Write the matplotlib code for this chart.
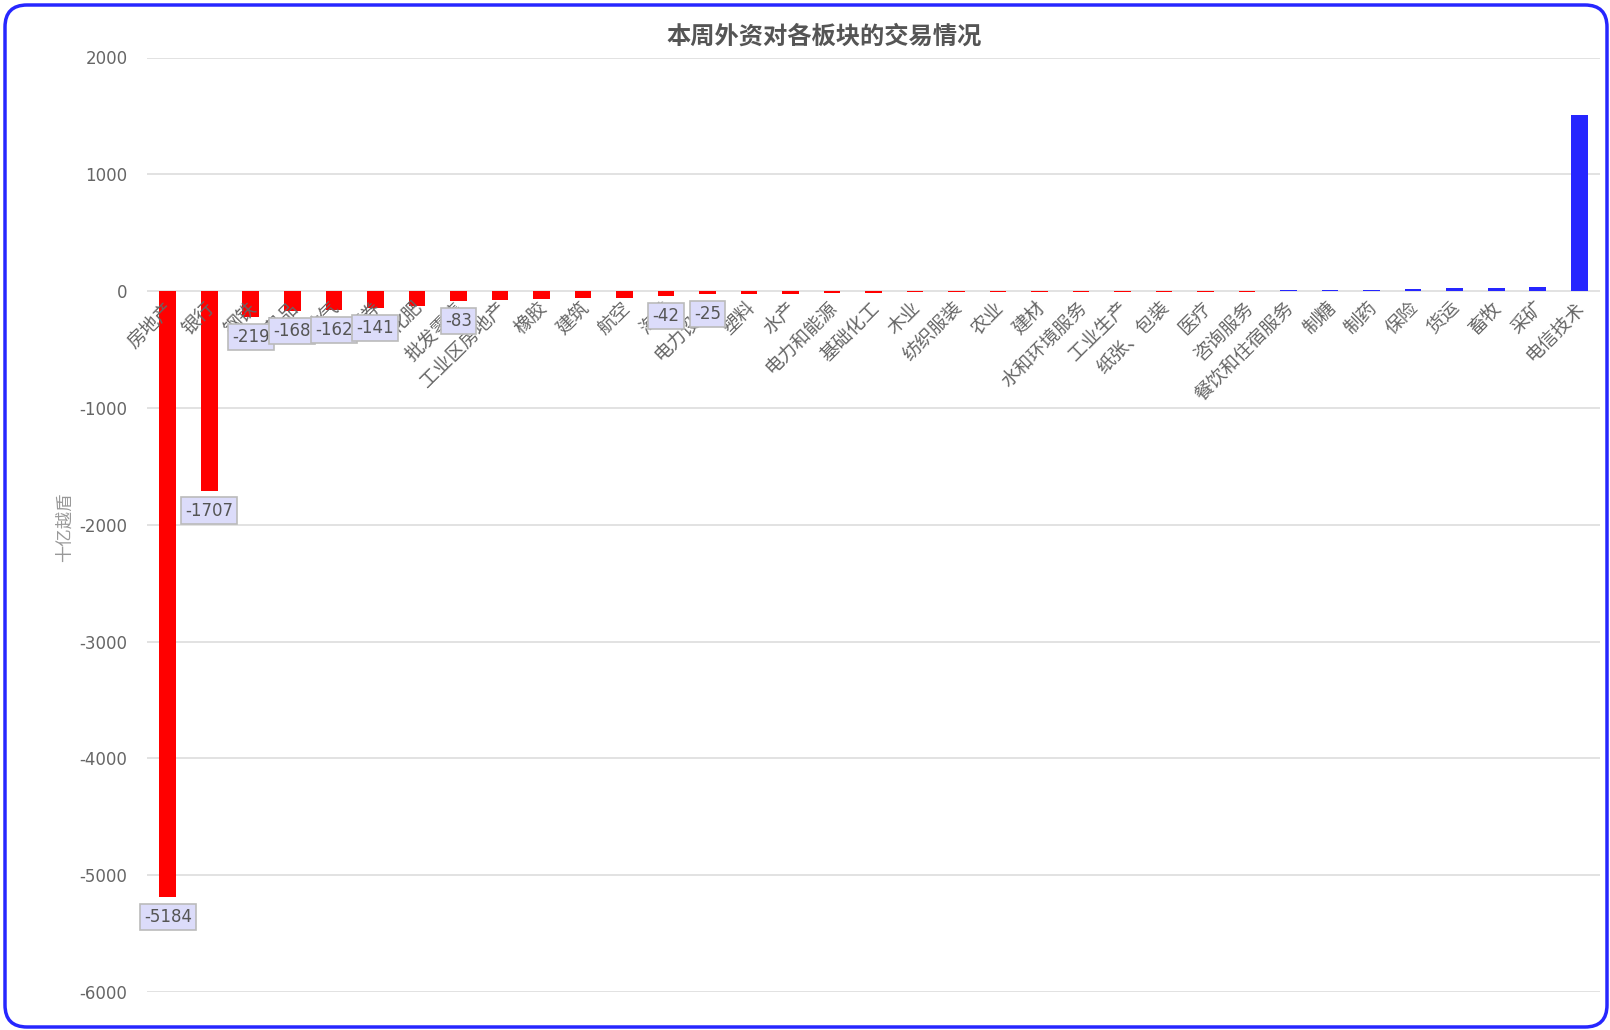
import matplotlib
matplotlib.use("Agg")
import matplotlib.pyplot as plt
from matplotlib.patches import FancyBboxPatch

categories = ["房地产", "银行", "钢铁", "消费品", "油气", "证券", "化肥", "批发零售",
              "工业区房地产", "橡胶", "建筑", "航空", "海港", "电力设备", "塑料", "水产",
              "电力和能源", "基础化工", "木业", "纺织服装", "农业", "建材", "水和环境服务",
              "工业生产", "纸张、包装", "医疗", "咨询服务", "餐饮和住宿服务", "制糖", "制药",
              "保险", "货运", "畜牧", "采矿", "电信技术"]
values = [-5184, -1707, -219, -168, -162, -141, -125, -83,
          -74, -70, -60, -55, -42, -25, -22, -21,
          -15, -14, -10, -9, -9, -8, -8,
          -8, -7, -7, -7, 6, 7, 8,
          16, 24, 26, 33, 1505]
labeled = ["房地产", "银行", "钢铁", "消费品", "油气", "证券", "批发零售", "海港", "电力设备"]
yticks = [2000, 1000, 0, -1000, -2000, -3000, -4000, -5000, -6000]

plt.rcParams['font.family'] = ['Noto Sans CJK SC', 'DejaVu Sans']

W, H = 1610, 1030
fig = plt.figure(figsize=(W / 100, H / 100), dpi=100)
ax = fig.add_axes([147 / W, 1 - 992 / H, (1600 - 147) / W, (992 - 57.5) / H])

xs = list(range(len(categories)))
colors = ['#ff0000' if v < 0 else '#2626ff' for v in values]
ax.bar(xs, values, width=0.4, color=colors, zorder=3)

ax.set_xlim(-0.5, len(categories) - 0.5)
ax.set_ylim(-6000, 2000)
ax.set_yticks(yticks)
ax.set_yticklabels([str(t) for t in yticks], family='DejaVu Sans',
                   fontsize=12, color='#666666')
ax.tick_params(axis='y', length=0, pad=14)
ax.yaxis.grid(True, color='#dddddd', linewidth=1.2, zorder=0)
ax.set_axisbelow(True)
for s in ax.spines.values():
    s.set_visible(False)

ax.set_xticks([])
for x, name in zip(xs, categories):
    ax.annotate(name, xy=(x, 0), xycoords='data', xytext=(2, -10), textcoords='offset points',
                rotation=45, rotation_mode='anchor', ha='right', va='center',
                fontsize=13.5, color='#666666', fontweight='light', zorder=4)

for x, name, v in zip(xs, categories, values):
    if name in labeled:
        ax.annotate(str(v), xy=(x, v), xytext=(0, -8), textcoords='offset points',
                    ha='center', va='top', fontsize=12, color='#555555', family='DejaVu Sans',
                    zorder=6,
                    bbox=dict(boxstyle='square,pad=0.25', facecolor='#dcdcfa',
                              edgecolor='#bbbbbb', linewidth=1.2))

ax.set_ylabel("十亿越盾", fontsize=12.5, color='#999999', fontweight='light')
ax.yaxis.set_label_coords(-0.0505, 0.497)

fig.text(0.512, 1 - 37 / H, "本周外资对各板块的交易情况", ha='center', va='center',
         fontsize=17.5, fontweight='bold', color='#555555')

border = FancyBboxPatch((5, 3), W - 8, H - 8,
                        boxstyle="round,pad=0,rounding_size=22",
                        transform=None, facecolor='none', edgecolor='#2626ff',
                        linewidth=2.5, zorder=10)
fig.patches.append(border)

fig.savefig("out.png", dpi=100)
